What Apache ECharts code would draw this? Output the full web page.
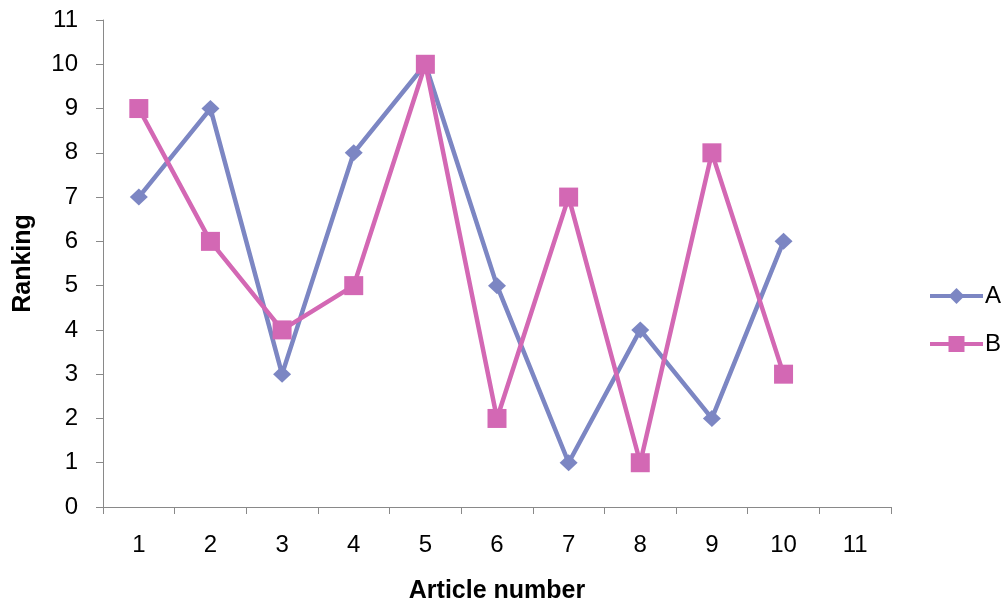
<!DOCTYPE html>
<html>
<head>
<meta charset="utf-8">
<script src="https://cdn.jsdelivr.net/npm/echarts@6/dist/echarts.min.js"></script>
<style>
  html, body { margin: 0; padding: 0; background: #fff; overflow: hidden; }
  #chart { width: 1005px; height: 606px; }
</style>
</head>
<body>
<div id="chart"></div>
<script>
// Article numbers on the x axis
const categories = ['1', '2', '3', '4', '5', '6', '7', '8', '9', '10', '11'];
// Ranking given to each article by A and B
const seriesA = [7, 9, 3, 8, 10, 5, 1, 4, 2, 6];
const seriesB = [9, 6, 4, 5, 10, 2, 7, 1, 8, 3];

const colorA = '#7C86C3';
const colorB = '#D368B4';
const axisGray = '#898989';
const font = '"Liberation Sans", Arial, sans-serif';

const chart = echarts.init(document.getElementById('chart'), null, { renderer: 'canvas' });
chart.setOption({
  animation: false,
  backgroundColor: '#ffffff',
  textStyle: { fontFamily: font },
  grid: {
    left: 103, right: 114, top: 20, bottom: 99,
    containLabel: false,
    outerBoundsMode: 'none'
  },
  legend: {
    orient: 'vertical',
    left: 923,
    top: 279,
    itemWidth: 53,
    itemHeight: 20,
    itemGap: 24,
    lineStyle: { width: 4 },
    textStyle: { fontSize: 24, color: '#000', fontFamily: font, padding: [0, 0, 0, -3] },
    data: ['A', 'B']
  },
  xAxis: {
    type: 'category',
    data: categories,
    boundaryGap: true,
    name: 'Article number',
    nameLocation: 'middle',
    nameGap: 72,
    nameTextStyle: { fontSize: 25, fontWeight: 'bold', color: '#000', fontFamily: font },
    axisLine: { lineStyle: { color: axisGray, width: 1 } },
    axisTick: { show: true, length: 7, lineStyle: { color: axisGray } },
    axisLabel: { fontSize: 24, color: '#000', margin: 26, fontFamily: font },
    splitLine: { show: false }
  },
  yAxis: {
    type: 'value',
    min: 0,
    max: 11,
    interval: 1,
    name: 'Ranking',
    nameLocation: 'middle',
    nameGap: 67,
    nameTextStyle: { fontSize: 25, fontWeight: 'bold', color: '#000', fontFamily: font },
    axisLine: { show: true, lineStyle: { color: axisGray, width: 1 } },
    axisTick: { show: true, length: 7, lineStyle: { color: axisGray } },
    axisLabel: { fontSize: 24, color: '#000', margin: 25, fontFamily: font },
    splitLine: { show: false }
  },
  series: [
    {
      name: 'A',
      type: 'line',
      data: seriesA,
      symbol: 'diamond',
      symbolSize: [18, 17],
      showAllSymbol: true,
      color: colorA,
      lineStyle: { width: 4.5, color: colorA },
      itemStyle: { color: colorA }
    },
    {
      name: 'B',
      type: 'line',
      data: seriesB,
      symbol: 'rect',
      symbolSize: 19,
      showAllSymbol: true,
      color: colorB,
      lineStyle: { width: 4.5, color: colorB },
      itemStyle: { color: colorB }
    }
  ]
});
</script>
</body>
</html>
